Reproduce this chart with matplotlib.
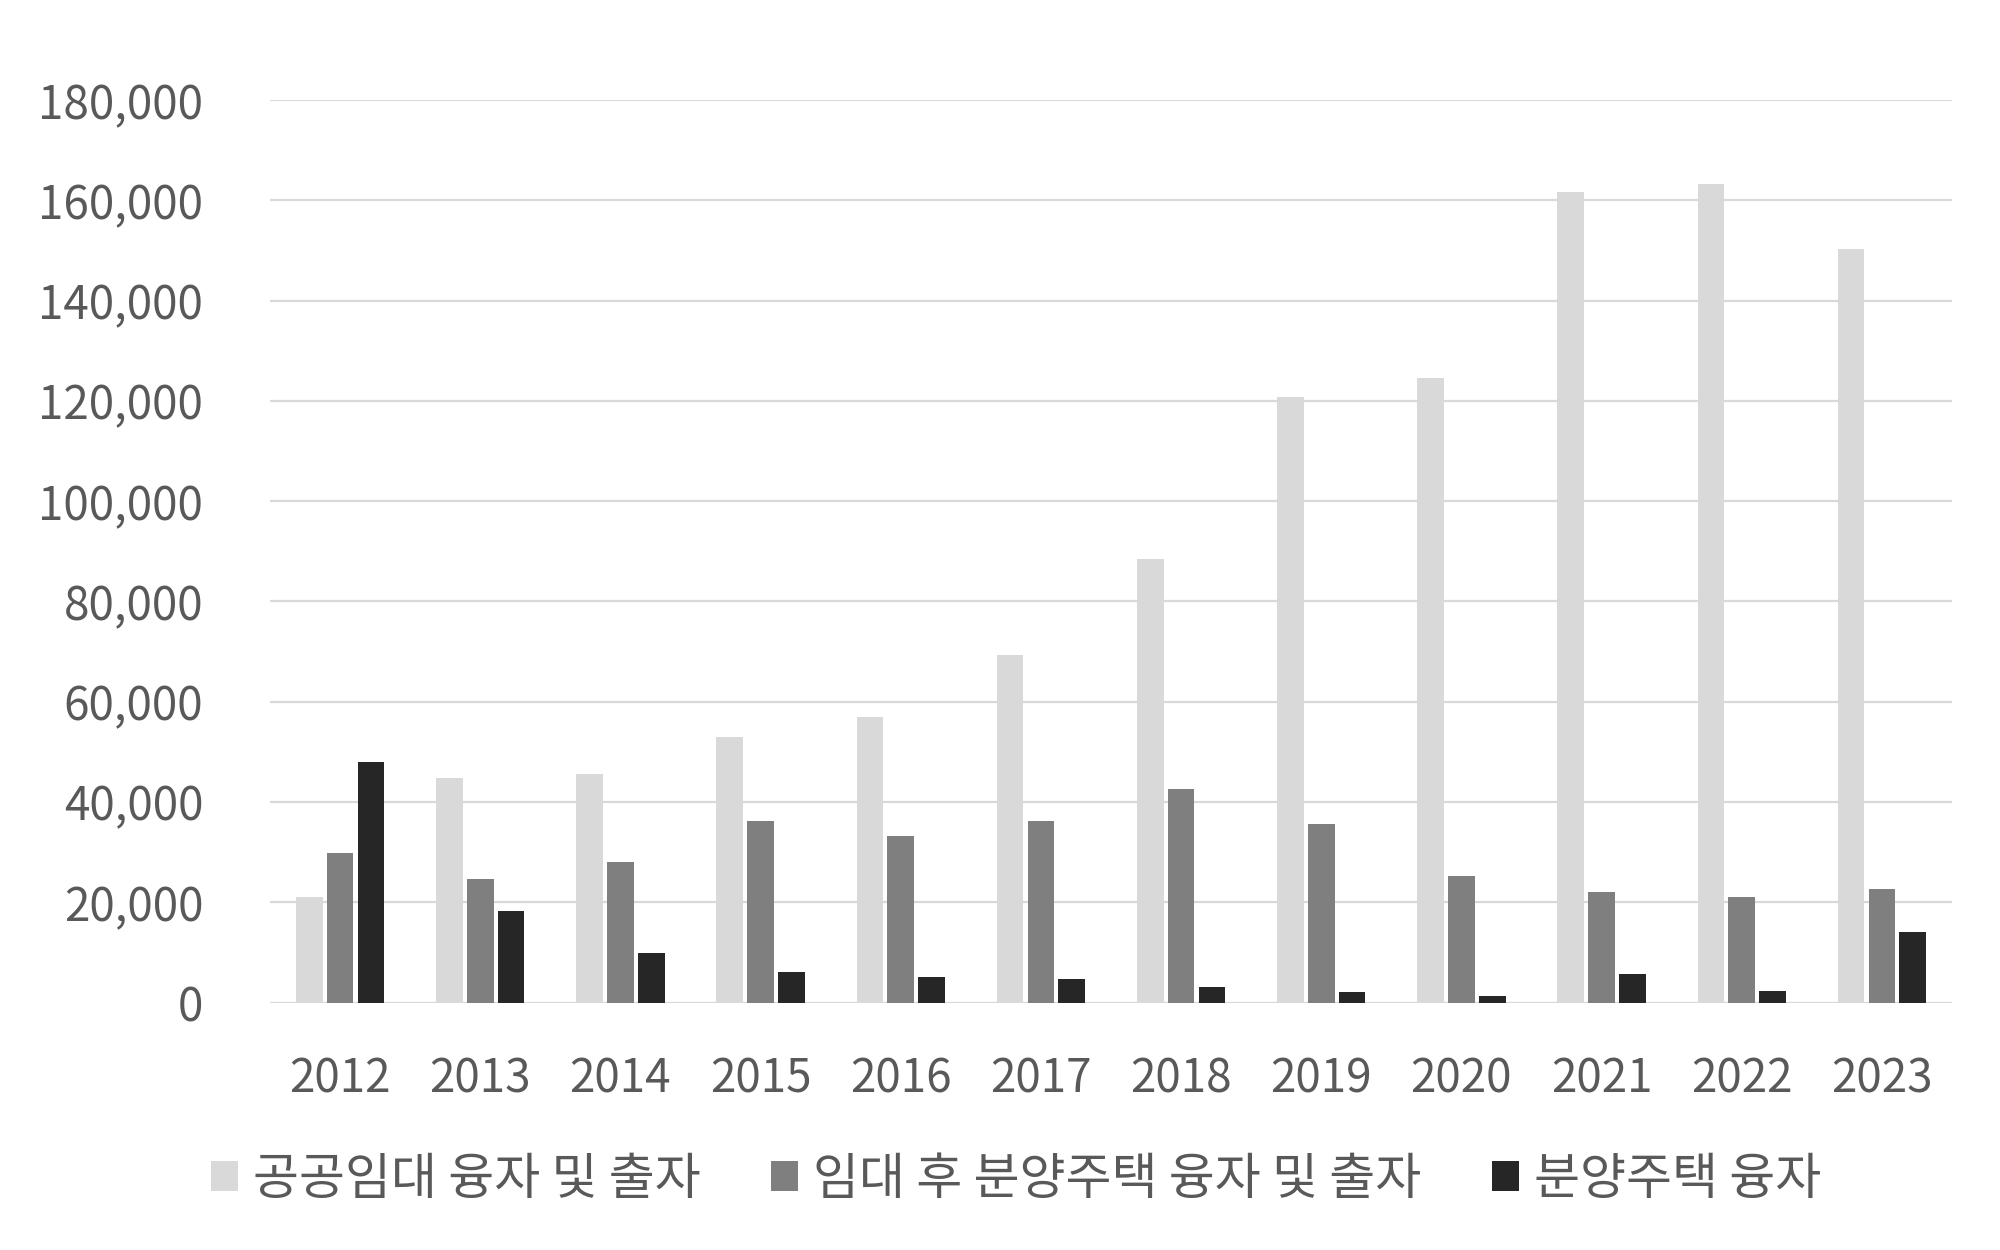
import numpy as np
from matplotlib import pyplot as plt

plt.rcParams['font.family'] = ['Noto Sans CJK KR', 'DejaVu Sans']

# 연도별 값
years = ["2012", "2013", "2014", "2015", "2016", "2017",
         "2018", "2019", "2020", "2021", "2022", "2023"]
gonggong = [21000, 44700, 45500, 52900, 57000, 69400,
            88500, 120800, 124600, 161700, 163300, 150300]
imdae_hu = [29800, 24700, 28000, 36100, 33300, 36100,
            42500, 35600, 25200, 22100, 21100, 22600]
bunyang = [48000, 18200, 9800, 6000, 5100, 4600,
           3000, 2000, 1200, 5600, 2200, 14000]

series_names = ["공공임대 융자 및 출자", "임대 후 분양주택 융자 및 출자", "분양주택 융자"]
colors = ["#d9d9d9", "#7f7f7f", "#262626"]

fig = plt.figure(figsize=(20, 12.5), dpi=100)
ax = fig.add_axes([0.135, 0.198, 0.841, 0.722])

x = np.arange(len(years))
width = 0.19
step = 0.22
for i, (vals, name, c) in enumerate(zip([gonggong, imdae_hu, bunyang], series_names, colors)):
    ax.bar(x + (i - 1) * step, vals, width=width, color=c, label=name, zorder=3)

ax.set_ylim(0, 180000)
ax.set_xlim(-0.5, len(years) - 0.5)
ax.set_yticks(range(0, 180001, 20000))
ax.set_yticklabels([f"{v:,}" for v in range(0, 180001, 20000)])
ax.set_xticks(x)
ax.set_xticklabels(years)

ax.grid(axis="y", color="#d9d9d9", linewidth=1.6, zorder=0)
for s in ax.spines.values():
    s.set_visible(False)
ax.tick_params(axis="both", length=0, labelsize=33, labelcolor="#595959")
ax.tick_params(axis="y", pad=48)
ax.tick_params(axis="x", pad=38)

leg = fig.legend(loc="center", bbox_to_anchor=(0.508, 0.056), ncol=3, frameon=False,
                 fontsize=36, handlelength=0.55, handleheight=0.55, handletextpad=0.3,
                 columnspacing=1.4, labelcolor="#595959")

fig.savefig("out.png", dpi=100)
